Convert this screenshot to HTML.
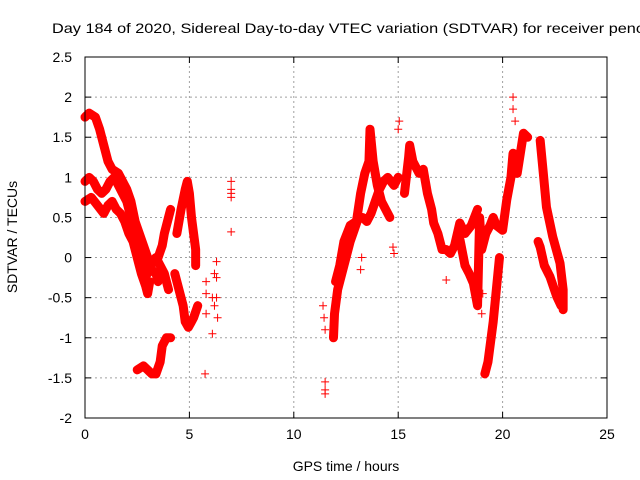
<!DOCTYPE html>
<html><head><meta charset="utf-8"><style>
body{margin:0;background:#fff;}
svg{display:block;font-family:"Liberation Sans",sans-serif;}
</style></head><body>
<svg id="chart" width="640" height="480" viewBox="0 0 640 480">
<text x="52" y="33" font-size="14" fill="#000" textLength="592" lengthAdjust="spacingAndGlyphs">Day 184 of 2020, Sidereal Day-to-day VTEC variation (SDTVAR) for receiver penc</text>
<g id="grid"></g>
<g id="axes"></g>
<g id="marks"></g>
<rect x="85" y="57" width="522" height="361" fill="none" stroke="#000" stroke-width="1"/>
<text x="346" y="471" font-size="14" text-anchor="middle">GPS time / hours</text>
<text transform="translate(17,237) rotate(-90)" font-size="14" text-anchor="middle">SDTVAR / TECUs</text>
</svg>
<script>
const xTicks=[0,5,10,15,20,25];
const yTicks=[-2,-1.5,-1,-0.5,0,0.5,1,1.5,2,2.5];
const yTickLabels=["-2","-1.5","-1","-0.5","0","0.5","1","1.5","2","2.5"];
const trackA_t=[0,0.2,0.5,0.7,0.9,1.1,1.3,1.6,1.8,2.0,2.2,2.4,2.6,2.8,3.0,3.2,3.4,3.5];
const trackA_v=[1.75,1.8,1.75,1.6,1.4,1.2,1.1,1.05,0.95,0.85,0.7,0.45,0.3,0.15,0.0,-0.15,-0.2,-0.3];
const trackB_t=[0,0.2,0.4,0.6,0.8,1.0,1.2,1.4,1.6,1.8,2.0,2.2,2.4,2.6,2.8,3.0,3.2,3.4,3.6,3.8,4.0];
const trackB_v=[0.95,1.0,0.95,0.85,0.8,0.85,0.95,1.0,0.9,0.8,0.7,0.5,0.3,0.1,-0.1,-0.2,-0.05,0.0,-0.1,-0.2,-0.4];
const trackC_t=[0,0.3,0.6,0.9,1.1,1.3,1.5,1.7,1.9,2.1,2.3,2.5,2.7,2.9,3.0,3.1];
const trackC_v=[0.7,0.75,0.65,0.55,0.65,0.7,0.6,0.55,0.45,0.3,0.2,0.0,-0.2,-0.35,-0.45,-0.3];
const trackD_t=[3.1,3.3,3.5,3.7,3.8,4.0,4.1];
const trackD_v=[-0.1,-0.05,0.0,0.15,0.3,0.5,0.6];
const trackE_t=[2.5,2.8,3.0,3.2,3.4,3.6,3.7,3.9,4.1];
const trackE_v=[-1.4,-1.35,-1.4,-1.45,-1.45,-1.3,-1.1,-1.0,-1.0];
const trackF_t=[4.4,4.6,4.8,4.9,5.0,5.1,5.2,5.3,5.3];
const trackF_v=[0.3,0.6,0.85,0.95,0.8,0.5,0.3,0.1,-0.1];
const trackG_t=[4.3,4.5,4.7,4.8,4.95,5.1,5.2,5.4];
const trackG_v=[-0.2,-0.4,-0.6,-0.8,-0.87,-0.8,-0.75,-0.6];
const trackH_t=[11.9,11.95,12.1,12.3,12.5,12.7,12.9,13.1,13.3,13.5,13.7,13.9,14.1,14.3,14.5,14.8,15.0];
const trackH_v=[-1.0,-0.7,-0.4,-0.2,0.0,0.2,0.35,0.5,0.5,0.45,0.55,0.7,0.85,0.95,1.0,0.9,1.0];
const trackI_t=[12.0,12.2,12.4,12.7,13.0,13.2,13.4,13.6,13.65,13.8,14.0,14.2,14.4,14.6];
const trackI_v=[-0.3,-0.1,0.2,0.4,0.45,0.8,1.05,1.2,1.6,1.2,0.9,0.7,0.6,0.5];
const trackJ_t=[15.3,15.5,15.55,15.7,16.0,16.2,16.4,16.6,16.7,16.9,17.1,17.3,17.5,17.7,17.95,18.2,18.5,18.8];
const trackJ_v=[0.8,1.25,1.4,1.2,1.05,1.1,0.8,0.6,0.43,0.3,0.1,0.1,0.05,0.15,0.43,0.3,0.4,0.6];
const trackK_t=[17.96,18.2,18.4,18.6,18.8,18.9,19.0,19.2,19.4,19.55,19.7,20.0,20.2,20.4,20.5,20.7,21.0,21.2];
const trackK_v=[0.22,-0.1,-0.2,-0.32,-0.6,0.5,0.1,0.3,0.4,0.5,0.4,0.34,0.72,1.0,1.3,1.05,1.55,1.5];
const trackL_t=[19.15,19.3,19.4,19.55,19.7,19.85];
const trackL_v=[-1.45,-1.3,-1.1,-0.8,-0.4,0.0];
const trackM_t=[21.8,21.95,22.1,22.4,22.75,22.9,22.9];
const trackM_v=[1.46,1.05,0.63,0.26,-0.07,-0.4,-0.65];
const trackN_t=[21.7,21.8,22.0,22.27,22.6,22.8];
const trackN_v=[0.2,0.13,-0.1,-0.24,-0.49,-0.6];
const scatter_t=[5.8,5.8,5.8,5.75,6.1,6.1,6.2,6.3,6.3,6.3,6.35,6.2,7.0,7.0,7.0,7.0,7.0,11.4,11.45,11.5,11.5,11.5,11.5,20.5,20.5,20.6,15.0,15.05,14.75,14.8,13.2,13.25,17.3,19.0,19.05];
const scatter_v=[-0.3,-0.45,-0.7,-1.45,-0.95,-0.5,-0.6,-0.05,-0.25,-0.5,-0.75,-0.2,0.95,0.85,0.75,0.8,0.32,-0.6,-0.75,-0.9,-1.55,-1.65,-1.7,2.0,1.85,1.7,1.6,1.7,0.13,0.05,-0.15,0.0,-0.28,-0.7,-0.45];
const tracks=[[trackA_t,trackA_v],[trackB_t,trackB_v],[trackC_t,trackC_v],[trackD_t,trackD_v],[trackE_t,trackE_v],[trackF_t,trackF_v],[trackG_t,trackG_v],[trackH_t,trackH_v],[trackI_t,trackI_v],[trackJ_t,trackJ_v],[trackK_t,trackK_v],[trackL_t,trackL_v],[trackM_t,trackM_v],[trackN_t,trackN_v]];

const X0=85,X1=607,Y0=418,Y1=57;
function xs(t){return X0+(t-0)/(25-0)*(X1-X0);}
function ys(v){return Y0-(v-(-2))/(2.5-(-2))*(Y0-Y1);}
const NS="http://www.w3.org/2000/svg";
function mk(tag,attrs,parent){const e=document.createElementNS(NS,tag);for(const k in attrs)e.setAttribute(k,attrs[k]);parent.appendChild(e);return e;}
const grid=document.getElementById('grid'),axes=document.getElementById('axes'),marks=document.getElementById('marks');

xTicks.forEach((t,i)=>{
  const x=xs(t);
  if(i>0&&i<xTicks.length-1){const g=mk('line',{x1:x,y1:Y0,x2:x,y2:Y1,stroke:'#a0a0a0','stroke-dasharray':'2,3'},grid);
  
  }
  mk('line',{x1:x,y1:Y0,x2:x,y2:Y0-6,stroke:'#000'},axes);
  mk('line',{x1:x,y1:Y1,x2:x,y2:Y1+6,stroke:'#000'},axes);
  const l=mk('text',{x:x,y:Y0+21,'font-size':14,'text-anchor':'middle'},axes);l.textContent=String(t);
  
  
});
yTicks.forEach((v,i)=>{
  const y=ys(v);
  if(i>0&&i<yTicks.length-1){const g=mk('line',{x1:X0,y1:y,x2:X1,y2:y,stroke:'#a0a0a0','stroke-dasharray':'2,3'},grid);
  
  }
  mk('line',{x1:X0,y1:y,x2:X0+6,y2:y,stroke:'#000'},axes);
  mk('line',{x1:X1,y1:y,x2:X1-6,y2:y,stroke:'#000'},axes);
  const l=mk('text',{x:X0-13,y:y+5,'font-size':14,'text-anchor':'end'},axes);l.textContent=yTickLabels[i];
  
  
});
function plus(t,v){
  const x=xs(t),y=ys(v);
  const p=mk('path',{d:`M${x-4},${y}h8M${x},${y-4}v8`,stroke:'#f00','stroke-width':1},marks);
  
  
}
tracks.forEach(([ts,vs])=>{
  const pts=ts.map((t,i)=>xs(t)+','+ys(vs[i])).join(' ');
  const pl=mk('polyline',{points:pts,fill:'none',stroke:'#f00','stroke-width':9,'stroke-linejoin':'round','stroke-linecap':'round'},marks);
  
  
  ts.forEach((t,i)=>plus(t,vs[i]));
});
scatter_t.forEach((t,i)=>plus(t,scatter_v[i]));
</script>
</body></html>
